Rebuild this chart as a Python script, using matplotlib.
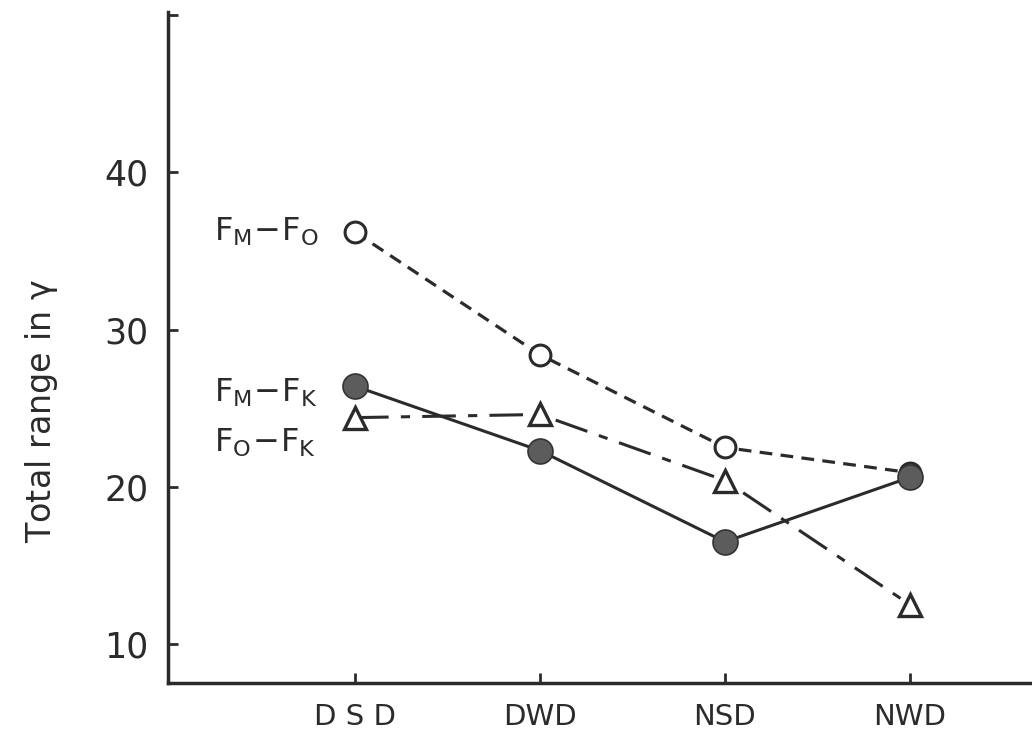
import matplotlib
matplotlib.use("Agg")
import matplotlib.pyplot as plt
import numpy as np

# categories on the x axis
cats = ["DSD", "DWD", "NSD", "NWD"]

# total range (gamma)
fm_fo = [36.2, 28.4, 22.5, 20.9]
fm_fk = [26.4, 22.3, 16.5, 20.6]
fo_fk = [24.4, 24.6, 20.4, 12.5]

yticks = [10, 20, 30, 40]

plt.rcParams['font.family'] = ['DejaVu Sans']
plt.rcParams['mathtext.default'] = 'regular'

ink = '#2b2b2b'
fig = plt.figure(figsize=(10.32, 7.55), dpi=100)
ax = fig.add_axes([0.163, 0.095, 0.837, 0.889])

x = np.arange(len(cats))

# F_M - F_O : open circles, short dashes
ax.plot(x, fm_fo, linestyle=(0, (4, 2.6)), color=ink, lw=2.3,
        marker='o', ms=15, mfc='white', mec=ink, mew=2.2, zorder=3)
# F_O - F_K : open triangles, dash-dot
ax.plot(x, fo_fk, linestyle=(0, (11, 4, 3, 4)), color=ink, lw=2.2,
        marker='^', ms=16, mfc='white', mec=ink, mew=2.4, zorder=3)
# F_M - F_K : filled circles, solid
ax.plot(x, fm_fk, linestyle='-', color=ink, lw=2.2,
        marker='o', ms=18, mfc='#5c5c5c', mec='#333333', mew=1.2, zorder=4)

# curve labels
ax.text(-0.76, fm_fo[0], r'$F_M\!-\!F_O$', fontsize=23, color=ink,
        ha='left', va='center')
ax.text(-0.76, 26.0, r'$F_M\!-\!F_K$', fontsize=23, color=ink,
        ha='left', va='center')
ax.text(-0.76, 22.8, r'$F_O\!-\!F_K$', fontsize=23, color=ink,
        ha='left', va='center')

ax.set_xlim(-1.01, 3.66)
ax.set_ylim(7.5, 50.2)
ax.set_xticks(x)
ax.set_xticklabels([" ".join(c) if c == "DSD" else c for c in cats],
                   fontsize=21, color=ink)
ax.set_yticks(yticks + [50])
ax.set_yticklabels([str(v) for v in yticks] + [""], fontsize=25, color=ink)
ax.tick_params(direction='in', length=7, width=2, color=ink, pad=14)
ax.tick_params(axis='x', pad=14)

for s in ['top', 'right']:
    ax.spines[s].set_visible(False)
for s in ['left', 'bottom']:
    ax.spines[s].set_linewidth(2.5)
    ax.spines[s].set_color(ink)

fig.text(0.04, 0.455, r'Total range in $\gamma$', rotation=90, fontsize=24,
         color=ink, ha='center', va='center')

fig.savefig("out.png", dpi=100)
